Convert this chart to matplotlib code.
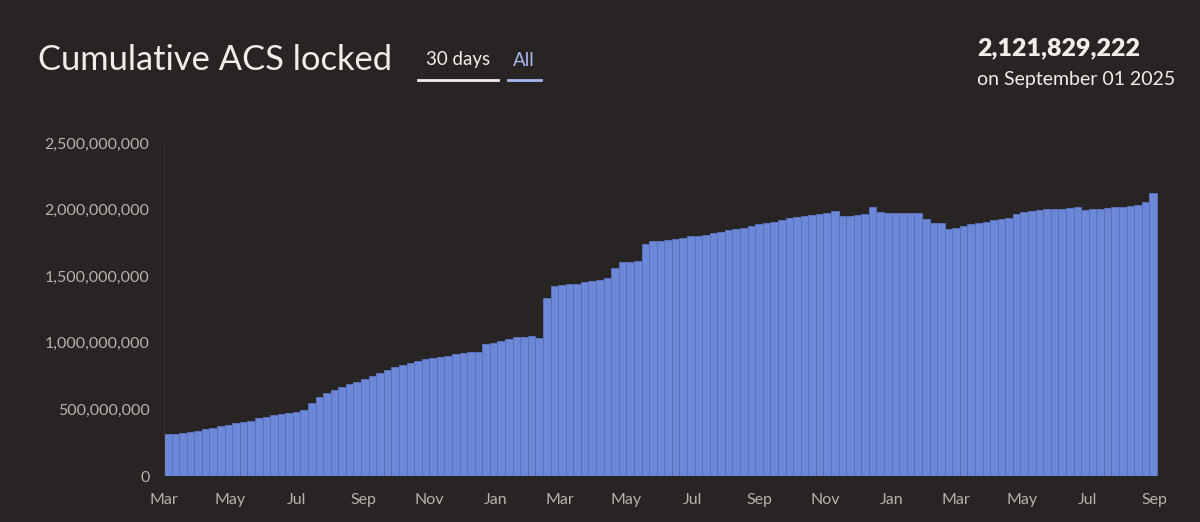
import numpy as np
import matplotlib
matplotlib.use("Agg")
import matplotlib.pyplot as plt
import matplotlib.dates as mdates
from matplotlib.ticker import FuncFormatter

# weekly readings of cumulative ACS locked (billions), weeks starting 2023-03-01
first_week = "2023-03-01"
acs_locked_bn = [
    0.315, 0.318, 0.322, 0.330, 0.340, 0.350, 0.362, 0.375, 0.383, 0.400,
    0.408, 0.415, 0.433, 0.445, 0.455, 0.463, 0.470, 0.482, 0.495, 0.545,
    0.595, 0.620, 0.645, 0.665, 0.688, 0.707, 0.725, 0.750, 0.775, 0.795,
    0.815, 0.830, 0.850, 0.863, 0.875, 0.885, 0.895, 0.903, 0.913, 0.920,
    0.928, 0.933, 0.990, 1.000, 1.013, 1.025, 1.040, 1.045, 1.052, 1.033,
    1.333, 1.425, 1.433, 1.440, 1.445, 1.455, 1.463, 1.470, 1.490, 1.558,
    1.608, 1.610, 1.612, 1.745, 1.763, 1.768, 1.775, 1.780, 1.790, 1.800,
    1.805, 1.813, 1.825, 1.835, 1.845, 1.853, 1.863, 1.875, 1.895, 1.903,
    1.910, 1.920, 1.938, 1.943, 1.950, 1.958, 1.970, 1.975, 1.990, 1.950,
    1.955, 1.963, 1.970, 2.020, 1.985, 1.975, 1.975, 1.978, 1.978, 1.975,
    1.930, 1.900, 1.900, 1.855, 1.860, 1.880, 1.890, 1.900, 1.910, 1.920,
    1.930, 1.940, 1.970, 1.985, 1.990, 1.995, 2.003, 2.005, 2.008, 2.015,
    2.018, 2.000, 2.003, 2.008, 2.015, 2.020, 2.023, 2.028, 2.035, 2.060,
    2.122,
]
y_ticks = [0, 500e6, 1000e6, 1500e6, 2000e6, 2500e6]
latest_value = "2,121,829,222"
latest_date = "on September 01 2025"

bg = "#282423"
bar_col = "#6d88d6"
gap_col = "#5a70b8"
tick_col = "#b8b2ae"

plt.rcParams['font.family'] = ['Lato', 'DejaVu Sans']

weeks = np.datetime64(first_week) + np.arange(len(acs_locked_bn)) * np.timedelta64(7, 'D')
vals = np.array(acs_locked_bn) * 1e9

fig = plt.figure(figsize=(12, 5.22), dpi=100, facecolor=bg)
ax = fig.add_axes([164/1200, 46/522, 994/1200, 333/522])
ax.set_facecolor(bg)

ax.bar(mdates.date2num(weeks.astype('datetime64[D]').astype(object)), vals,
       width=7, align='edge', color=bar_col, edgecolor=gap_col, linewidth=0.7)

ax.set_xlim(mdates.datestr2num("2023-03-01"), mdates.datestr2num("2025-09-04"))
ax.set_ylim(0, 2.5e9)
ax.set_yticks(y_ticks)
ax.yaxis.set_major_formatter(FuncFormatter(lambda v, p: f"{int(v):,}"))
ax.xaxis.set_major_locator(mdates.MonthLocator(bymonth=[1, 3, 5, 7, 9, 11]))
ax.xaxis.set_major_formatter(mdates.DateFormatter("%b"))
ax.tick_params(axis='both', length=0, colors=tick_col, labelsize=11.5)
ax.tick_params(axis='y', pad=10.5)
ax.tick_params(axis='x', pad=12)

for s in ['top', 'right', 'bottom']:
    ax.spines[s].set_visible(False)
ax.spines['left'].set_color("#353130")
ax.spines['left'].set_linewidth(0.8)

# header
fig.text(38/1200, 1 - 60/522, "Cumulative ACS locked", color="#f1eeea",
         fontsize=24.8, va='center', ha='left')
fig.text(458/1200, 1 - 60/522, "30 days", color="#f1eeea", fontsize=13.5,
         va='center', ha='center')
fig.text(524/1200, 1 - 60/522, "All", color="#a9b8ef", fontsize=13.5,
         va='center', ha='center')
fig.add_artist(plt.Line2D([418/1200, 498/1200], [1 - 80/522, 1 - 80/522],
                          color="#f1eeea", lw=2))
fig.add_artist(plt.Line2D([508/1200, 541/1200], [1 - 80/522, 1 - 80/522],
                          color="#a9b8ef", lw=2))

fig.text(977/1200, 1 - 48/522, latest_value, color="#f1eeea", fontsize=18,
         fontweight='heavy', va='center', ha='left')
fig.text(977/1200, 1 - 80/522, latest_date, color="#f1eeea", fontsize=14,
         va='center', ha='left')

fig.savefig("out.png", dpi=100, facecolor=bg)
